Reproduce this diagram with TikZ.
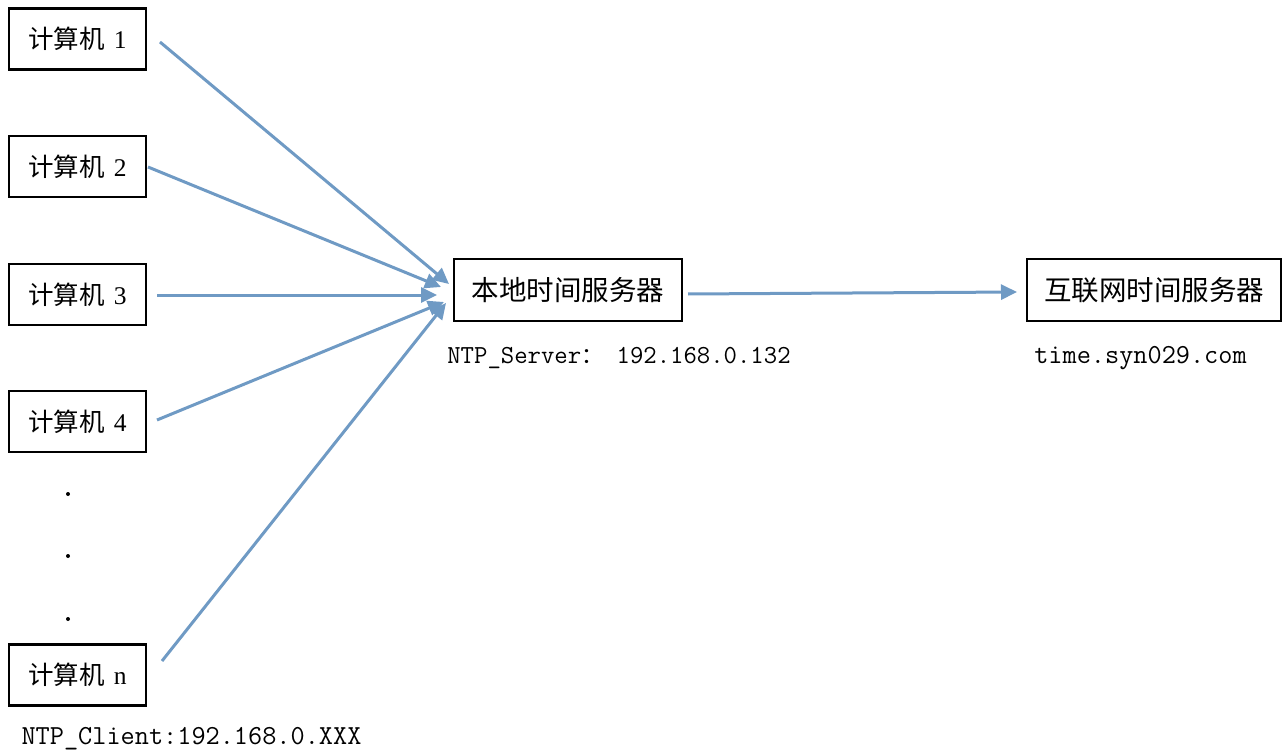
\documentclass[tikz,border=0pt]{standalone}
\usepackage{fontspec}
\setmainfont{Liberation Serif}
\newfontfamily\cjk{Noto Sans CJK SC}
\usetikzlibrary{arrows.meta}
\definecolor{arr}{HTML}{6F9AC4}
\begin{document}
\begin{tikzpicture}[x=1pt,y=-1pt,
  pcbox/.style={draw, line width=2.2pt, minimum width=137pt, minimum height=61pt, inner sep=0pt, font=\fontsize{25.5}{25.5}\selectfont},
  srvbox/.style={draw, line width=2.2pt, minimum height=62pt, inner sep=0pt, font=\cjk\fontsize{27.5}{28}\selectfont},
  conn/.style={draw=arr, line width=3pt, -{Triangle[length=16pt,width=15pt]}},
  lbl/.style={inner sep=0pt, font=\ttfamily\fontsize{27.5}{27.5}\selectfont\addfontfeatures{FakeBold=0.6}},
  dotc/.style={circle, fill=black, inner sep=0pt, minimum size=4pt}]
\useasboundingbox (0,0) rectangle (1283,754);

\node[pcbox] (c1) at (77.5,39)  {{\cjk 计算机}\hspace{9pt}1};
\node[pcbox] (c2) at (77.5,166.5) {{\cjk 计算机}\hspace{9pt}2};
\node[pcbox] (c3) at (77.5,294.5) {{\cjk 计算机}\hspace{9pt}3};
\node[pcbox] (c4) at (77.5,421.5) {{\cjk 计算机}\hspace{9pt}4};
\node[pcbox] (cn) at (77.5,675) {{\cjk 计算机}\hspace{9pt}n};

\node[dotc] (d1) at (68,494) {};
\node[dotc] (d2) at (68,556) {};
\node[dotc] (d3) at (68,619) {};

\node[srvbox, minimum width=228pt] (local) at (568,290) {本地时间服务器};
\node[srvbox, minimum width=254pt] (inet) at (1154,290) {互联网时间服务器};

\node[lbl, font=\ttfamily\fontsize{26}{26}\selectfont\addfontfeatures{FakeBold=0.6}] (lsrv) at (619,358) {NTP\_Server{\cjk\fontsize{22}{22}\selectfont ：}\ 192.168.0.132};
\node[lbl] (linet) at (1140.5,358) {time.syn029.com};
\node[lbl] (lcli) at (191.5,739) {NTP\_Client:192.168.0.XXX};

\coordinate (s1) at (160,42);  \coordinate (t1) at (449,284);
\coordinate (s2) at (148,167); \coordinate (t2) at (441,287);
\coordinate (s3) at (157,295); \coordinate (t3) at (437,295);
\coordinate (s4) at (157,420); \coordinate (t4) at (444,302);
\coordinate (s5) at (162,661); \coordinate (t5) at (446,303);
\coordinate (s6) at (688,294); \coordinate (t6) at (1017,292);

\draw[conn] (s1) -- (t1);
\draw[conn] (s2) -- (t2);
\draw[conn] (s3) -- (t3);
\draw[conn] (s4) -- (t4);
\draw[conn] (s5) -- (t5);
\draw[conn] (s6) -- (t6);
\end{tikzpicture}
\end{document}
